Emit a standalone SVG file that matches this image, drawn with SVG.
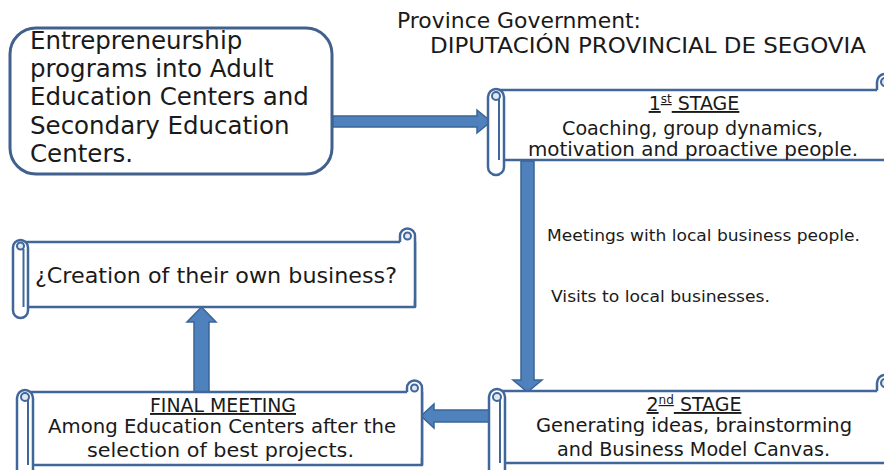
<svg xmlns="http://www.w3.org/2000/svg" width="884" height="470" viewBox="0 0 884 470">
<defs>
<style>
.t{font-family:"DejaVu Sans","Liberation Sans",sans-serif;fill:#1a1a1a}
.sc{fill:#fff;stroke:#41679A;stroke-width:2.5;stroke-linejoin:round}
.cu{fill:#dfe7f2;stroke:#41679A;stroke-width:2}
.ar{fill:#4F81BD;stroke:#3A6496;stroke-width:1.5;stroke-linejoin:miter}
.hd{text-decoration:underline}
</style>
</defs>
<rect width="884" height="470" fill="#fff"/>

<g id="province">
<text class="t" x="397" y="28" font-size="21" textLength="244" lengthAdjust="spacingAndGlyphs">Province Government:</text>
<text class="t" x="430" y="53" font-size="21" textLength="436" lengthAdjust="spacingAndGlyphs">DIPUTACIÓN PROVINCIAL DE SEGOVIA</text>
</g>

<g id="programs">
<rect x="10" y="28" width="322" height="146" rx="26" fill="#fff" stroke="#41618C" stroke-width="3"/>
<text class="t" font-size="24.5" x="30">
<tspan x="30" y="49">Entrepreneurship</tspan>
<tspan x="30" y="77">programs into Adult</tspan>
<tspan x="30" y="105">Education Centers and</tspan>
<tspan x="30" y="134">Secondary Education</tspan>
<tspan x="30" y="162">Centers.</tspan>
</text>
</g>

<g id="connectors">
<path class="ar" d="M333,116 H477 V110 L491,121.5 L477,133 V127 H333 Z"/>
<path class="ar" d="M521,161 V380 H513 L527.5,392 L542,380 H534 V161 Z"/>
<path class="ar" d="M490,410 H434 V404 L421,416 L434,428 V422 H490 Z"/>
<path class="ar" d="M194,392 V322 H187 L201.5,307 L216,322 H209 V392 Z"/>
</g>

<g id="stage1">
<rect class="sc" x="496" y="90" width="420" height="70"/>
<path class="sc" d="M893,160 V82 A8,8 0 0 0 877,82 V90"/>
<circle class="cu" cx="885" cy="82" r="4"/>
<rect class="sc" x="488" y="89" width="16" height="86" rx="8"/>
<path d="M499,97 V160" fill="none" stroke="#41679A" stroke-width="2"/>
<circle class="cu" cx="496" cy="96" r="4"/>
<text class="t hd" x="694" y="110" font-size="19" text-anchor="middle">1<tspan font-size="12" dy="-7">st</tspan><tspan dy="7"> STAGE</tspan></text>
<text class="t" x="562" y="135" font-size="19" textLength="261" lengthAdjust="spacingAndGlyphs">Coaching, group dynamics,</text>
<text class="t" x="528" y="156" font-size="19" textLength="330" lengthAdjust="spacingAndGlyphs">motivation  and proactive people.</text>
</g>

<g id="meetings">
<text class="t" x="547" y="241" font-size="16" textLength="313" lengthAdjust="spacingAndGlyphs">Meetings with local business people.</text>
<text class="t" x="551" y="302" font-size="16" textLength="219" lengthAdjust="spacingAndGlyphs">Visits to local businesses.</text>
</g>

<g id="stage2">
<rect class="sc" x="497" y="391" width="420" height="72"/>
<path class="sc" d="M893,463 V383 A8,8 0 0 0 877,383 V391"/>
<circle class="cu" cx="885" cy="383" r="4"/>
<rect class="sc" x="489" y="389" width="16" height="100" rx="8"/>
<path d="M500,398 V463" fill="none" stroke="#41679A" stroke-width="2"/>
<circle class="cu" cx="497" cy="397" r="4"/>
<text class="t hd" x="694" y="411" font-size="19" text-anchor="middle">2<tspan font-size="12" dy="-7">nd</tspan><tspan dy="7"> STAGE</tspan></text>
<text class="t" x="536" y="432" font-size="19" textLength="316" lengthAdjust="spacingAndGlyphs">Generating ideas, brainstorming</text>
<text class="t" x="557" y="456" font-size="19" textLength="273" lengthAdjust="spacingAndGlyphs">and Business Model Canvas.</text>
</g>

<g id="final-meeting">
<rect class="sc" x="25" y="392" width="397" height="73"/>
<path class="sc" d="M422,465 V388 A7.5,7.5 0 0 0 407,388 V392"/>
<circle class="cu" cx="414.5" cy="388" r="3.5"/>
<rect class="sc" x="17" y="390" width="16" height="100" rx="8"/>
<path d="M28,399 V465" fill="none" stroke="#41679A" stroke-width="2"/>
<circle class="cu" cx="25" cy="397" r="4"/>
<text class="t hd" x="223" y="412" font-size="19" text-anchor="middle" textLength="146" lengthAdjust="spacingAndGlyphs">FINAL MEETING</text>
<text class="t" x="48" y="433" font-size="19" textLength="348" lengthAdjust="spacingAndGlyphs">Among Education Centers after the</text>
<text class="t" x="87" y="457" font-size="19" textLength="267" lengthAdjust="spacingAndGlyphs">selection of best projects.</text>
</g>

<g id="creation">
<rect class="sc" x="21" y="242" width="394" height="65"/>
<path class="sc" d="M415,307 V236 A7.5,7.5 0 0 0 400,236 V242"/>
<circle class="cu" cx="407.5" cy="236" r="3.5"/>
<rect class="sc" x="13" y="240" width="15" height="78" rx="7.5"/>
<path d="M23.5,249 V307" fill="none" stroke="#41679A" stroke-width="2"/>
<circle class="cu" cx="20.5" cy="246" r="3.5"/>
<text class="t" x="35" y="283" font-size="21" textLength="362" lengthAdjust="spacingAndGlyphs">¿Creation of their own business?</text>
</g>
</svg>
